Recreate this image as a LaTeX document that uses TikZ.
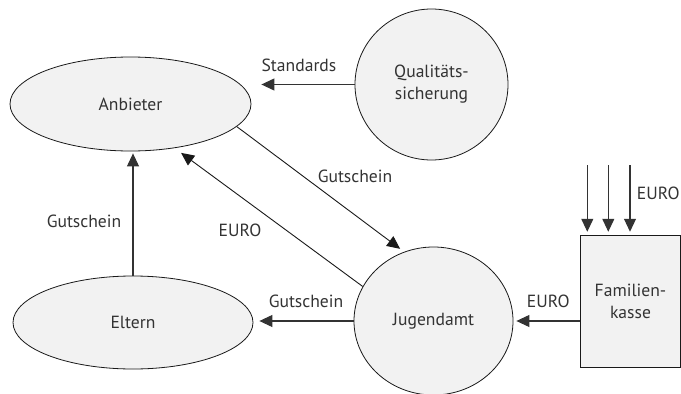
\documentclass[tikz,border=0pt]{standalone}
\usepackage{fontspec}
\setmainfont{PT Sans}
\usetikzlibrary{shapes.geometric,arrows.meta}
\begin{document}
\begin{tikzpicture}[x=1pt,y=-1pt,
  every node/.style={font=\fontsize{17.6}{22}\selectfont, text=black!80},
  blob/.style={ellipse, draw=black!90, line width=0.8pt, fill=black!5, inner sep=0pt, align=center},
  box/.style={rectangle, draw=black!90, line width=0.8pt, fill=black!5, inner sep=0pt, align=center},
  arr/.style={draw=black!80, line width=1.1pt, -{Triangle[length=13pt,width=12pt]}},
  diag/.style={line width=0.9pt, draw=black!90},
  lbl/.style={inner sep=0pt}]
\useasboundingbox (0,0) rectangle (681,394);
\node[blob, minimum width=241pt, minimum height=94pt] (anb) at (130.5,104) {Anbieter};
\node[blob, minimum width=240pt, minimum height=93pt] (elt) at (133,322.5) {Eltern};
\node[blob, minimum width=153pt, minimum height=151pt] (qs) at (431.5,84.5) {Qualitäts-\\sicherung};
\node[blob, minimum width=159pt, minimum height=148pt] (jug) at (433.5,321) {Jugendamt};
\node[box, minimum width=99.6pt, minimum height=132.7pt] (fk) at (630.5,301.5) {Familien-\\kasse};
\coordinate (s1) at (587.3,165);
\coordinate (s2) at (608.3,165);
\coordinate (s3) at (630,165);
\draw[arr] (qs.west) -- ([xshift=10pt]anb.east |- qs.west);
\draw[arr, diag, shorten >=5pt] (anb.-12.6) -- (jug.113.2);
\draw[arr, diag, shorten >=8pt] (jug.154.4) -- (anb.-45.6);
\draw[arr, shorten >=2pt] (elt.north) -- (elt.north |- anb.south);
\draw[arr, shorten >=6pt] (jug.west) -- (elt.east |- jug.west);
\draw[arr, shorten >=3pt] (fk.west |- jug.east) -- (jug.east);
\draw[arr, shorten >=3pt] (s1) -- (s1 |- fk.north);
\draw[arr, shorten >=3pt] (s2) -- (s2 |- fk.north);
\draw[arr, shorten >=3pt] (s3) -- (s3 |- fk.north);
\node[lbl] (lstd) at (299,65) {Standards};
\node[lbl] (lgut1) at (355,176.7) {Gutschein};
\node[lbl] (leur1) at (240,230.7) {EURO};
\node[lbl] (lgut2) at (84,221.7) {Gutschein};
\node[lbl] (lgut3) at (306,301.7) {Gutschein};
\node[lbl] (leur2) at (548.3,301.7) {EURO};
\node[lbl] (leur3) at (658.3,193.3) {EURO};
\end{tikzpicture}
\end{document}
